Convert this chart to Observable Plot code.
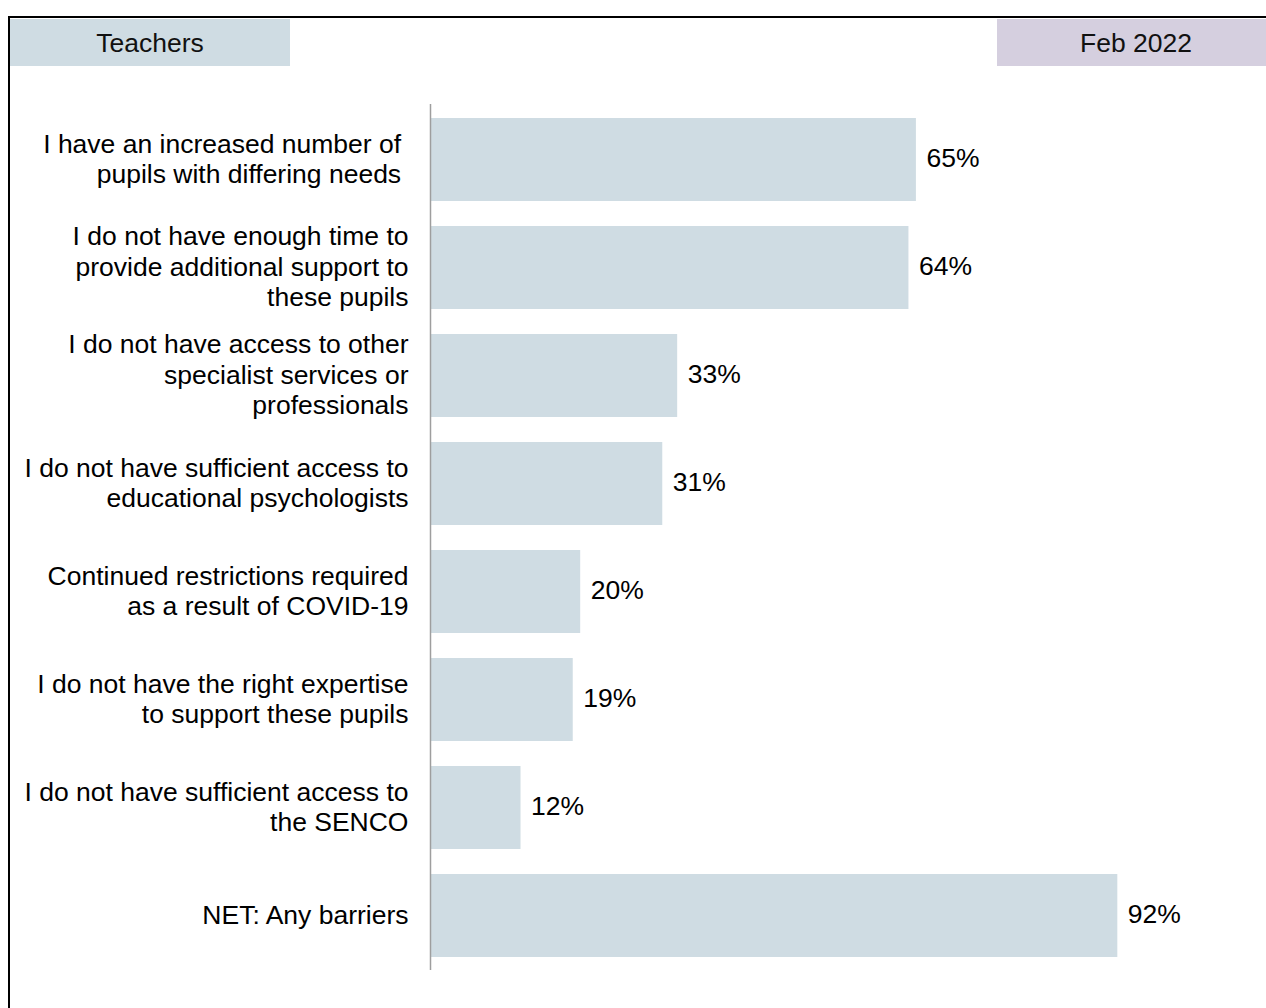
<!DOCTYPE html>
<html>
<head>
<meta charset="utf-8">
<script src="https://cdn.jsdelivr.net/npm/d3@7"></script>
<script src="https://cdn.jsdelivr.net/npm/@observablehq/plot@0.6"></script>
<style>
  html, body { margin: 0; padding: 0; background: #fff; }
  #wrap { position: relative; width: 1266px; height: 1008px; overflow: hidden; font-family: "Liberation Sans", Arial, sans-serif; }
  #chart { position: absolute; left: 0; top: 0; }
  .border-top { position: absolute; left: 8px; top: 16px; width: 1258px; height: 2px; background: #000; }
  .border-left { position: absolute; left: 8px; top: 16px; width: 2px; height: 992px; background: #000; }
  .hdr { position: absolute; top: 19px; height: 47px; line-height: 48px; text-align: center; font-size: 26.5px; color: #111; }
  #hdrLeft { left: 10px; width: 280px; background: #cfdce3; }
  #hdrRight { left: 997px; width: 278px; background: #d5cfdf; }
</style>
</head>
<body>
<div id="wrap">
  <div id="chart"></div>
  <div class="border-top"></div>
  <div class="border-left"></div>
  <div class="hdr" id="hdrLeft"></div>
  <div class="hdr" id="hdrRight"></div>
</div>
<script>
const headerLeft = "Teachers";
const headerRight = "Feb 2022";

const categories = [
  "I have an increased number of\u00a0\npupils with differing needs\u00a0",
  "I do not have enough time to\nprovide additional support to\nthese pupils",
  "I do not have access to other\nspecialist services or\nprofessionals",
  "I do not have sufficient access to\neducational psychologists",
  "Continued restrictions required\nas a result of COVID-19",
  "I do not have the right expertise\nto support these pupils",
  "I do not have sufficient access to\nthe SENCO",
  "NET: Any barriers"
];
const values = [65, 64, 33, 31, 20, 19, 12, 92];

document.getElementById("hdrLeft").textContent = headerLeft;
document.getElementById("hdrRight").textContent = headerRight;

const data = categories.map((c, i) => ({category: c, value: values[i]}));

const chart = Plot.plot({
  width: 1266,
  height: 1008,
  marginTop: 104,
  marginBottom: 38,
  marginLeft: 431,
  marginRight: 89,
  x: {domain: [0, 100], axis: null},
  y: {domain: categories, axis: null, paddingInner: 0.233, paddingOuter: 0.117},
  style: {fontFamily: "'Liberation Sans', Arial, sans-serif", fontSize: "26.5px", background: "transparent", color: "#000"},
  marks: [
    Plot.barX(data, {x: "value", y: "category", fill: "#cfdce3"}),
    Plot.ruleX([0], {stroke: "#9e9e9e", strokeWidth: 1.5, dx: -1}),
    Plot.text(data, {x: 0, y: "category", text: "category", textAnchor: "end", dx: -23, dy: -2, lineHeight: 1.155, fontSize: 26.5, fill: "#000"}),
    Plot.text(data, {x: "value", y: "category", text: d => d.value + "%", textAnchor: "start", dx: 10, dy: -1, fontSize: 26.5, fill: "#000"})
  ]
});
document.getElementById("chart").appendChild(chart);
</script>
</body>
</html>
